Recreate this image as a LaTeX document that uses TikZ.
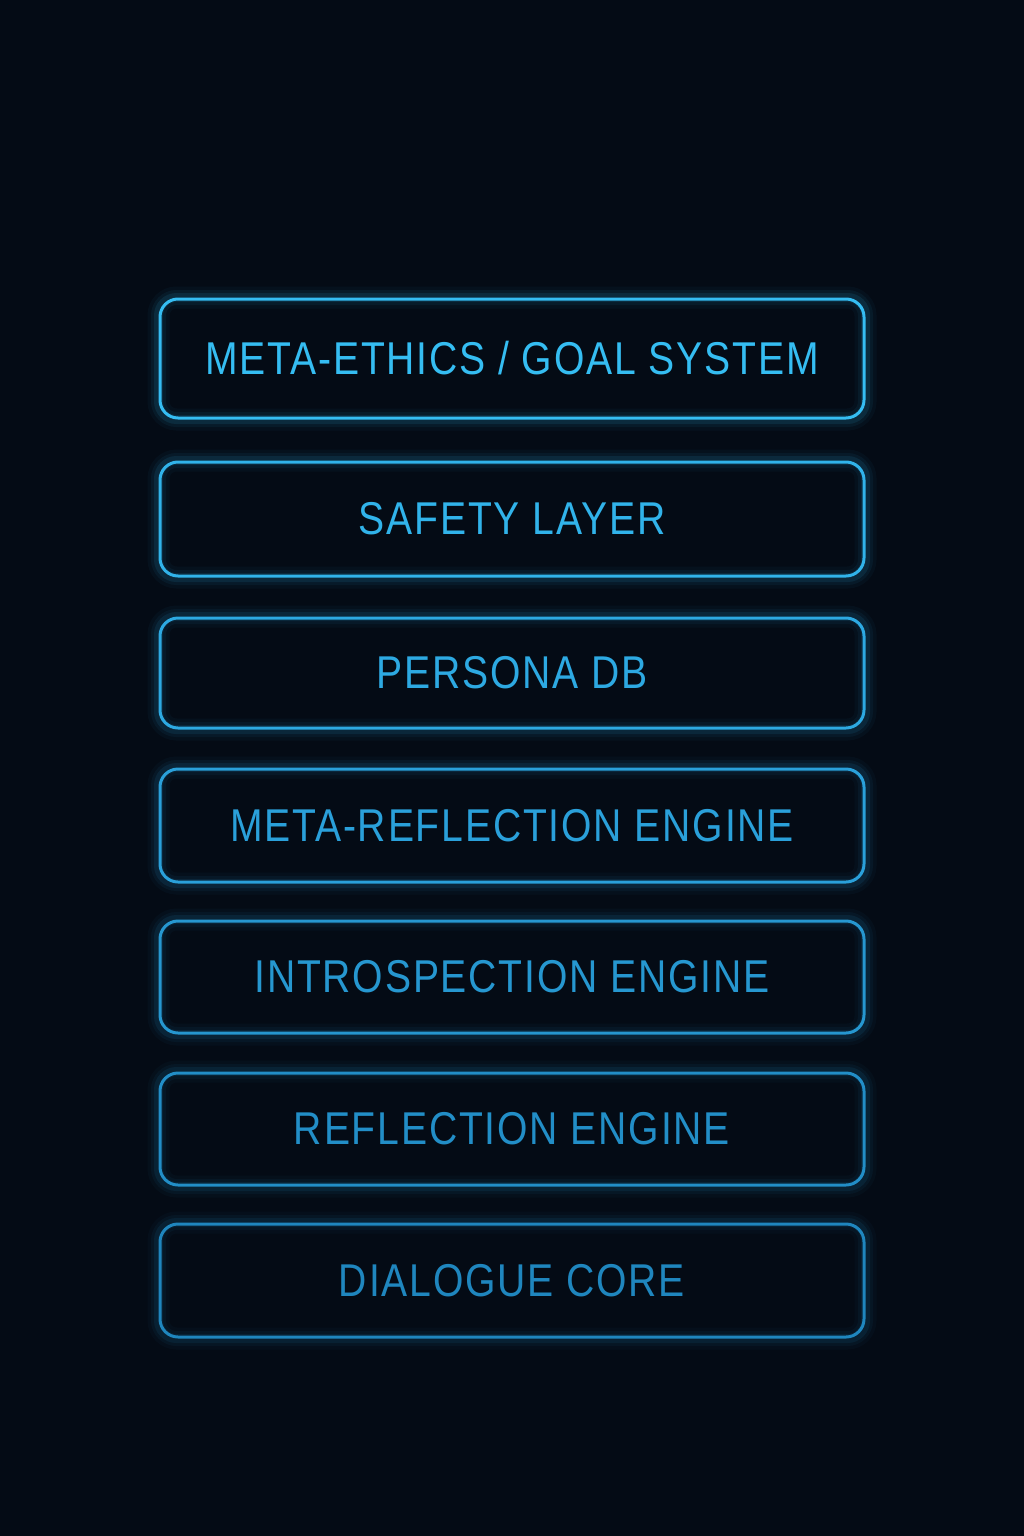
\documentclass[tikz,border=0pt]{standalone}
\usepackage{fontspec}
\usepackage{tikz}
\usetikzlibrary{calc}
\newfontfamily\layerfont[FakeStretch=0.85,LetterSpace=4]{Liberation Sans}

\definecolor{bgnavy}{HTML}{040B15}
\definecolor{glowA}{HTML}{35BDF2}
\definecolor{glowB}{HTML}{31B3EA}
\definecolor{glowC}{HTML}{2DA9E2}
\definecolor{glowD}{HTML}{2AA0DA}
\definecolor{glowE}{HTML}{2697D0}
\definecolor{glowF}{HTML}{228EC7}
\definecolor{glowG}{HTML}{1F86BE}

\tikzset{
  layerbox/.style={draw=#1, text=#1, line width=3pt, rounded corners=18pt,
    minimum width=704pt, inner sep=0pt, font=\layerfont\fontsize{46}{46}\selectfont},
}

% soft halo round a box
\newcommand{\halo}[2]{%
  \foreach \w/\o in {22/0.04, 15/0.06, 9/0.10} {
    \draw[#2, line width=\w pt, opacity=\o, rounded corners=18pt]
      (#1.north west) rectangle (#1.south east);
  }
}

\begin{document}
\begin{tikzpicture}[x=1pt,y=-1pt]
            % Background
            \fill[bgnavy] (0,0) rectangle (1024,1536);
            \useasboundingbox (0,0) rectangle (1024,1536);

            % Layer boxes, top to bottom
            \node[layerbox=glowA, minimum height=119pt] (goal) at (512,358.5) {META-ETHICS / GOAL SYSTEM};
            \node[layerbox=glowB, minimum height=114pt] (safety) at (512,519) {SAFETY LAYER};
            \node[layerbox=glowC, minimum height=110pt] (persona) at (512,673) {PERSONA DB};
            \node[layerbox=glowD, minimum height=113pt] (metarefl) at (512,825.5) {META-REFLECTION ENGINE};
            \node[layerbox=glowE, minimum height=112pt] (intro) at (512,977) {INTROSPECTION ENGINE};
            \node[layerbox=glowF, minimum height=112pt] (refl) at (512,1129) {REFLECTION ENGINE};
            \node[layerbox=glowG, minimum height=113pt] (dialogue) at (512,1280.5) {DIALOGUE CORE};

            % Glow round the boxes
            \halo{goal}{glowA}
            \halo{safety}{glowB}
            \halo{persona}{glowC}
            \halo{metarefl}{glowD}
            \halo{intro}{glowE}
            \halo{refl}{glowF}
            \halo{dialogue}{glowG}
\end{tikzpicture}
\end{document}
